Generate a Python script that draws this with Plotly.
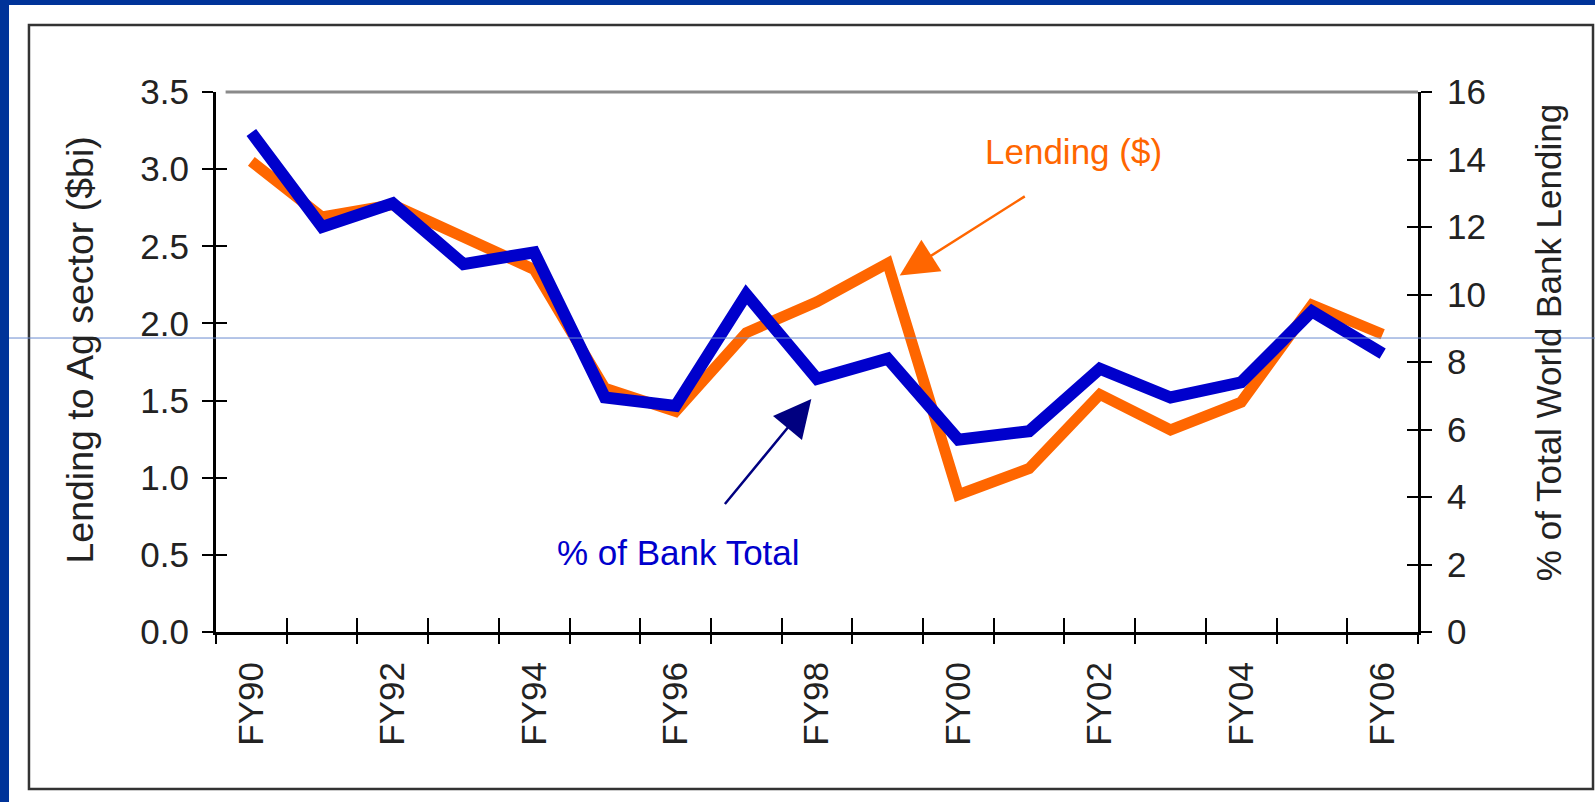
import plotly.graph_objects as go

years = ["FY90", "FY91", "FY92", "FY93", "FY94", "FY95", "FY96", "FY97", "FY98",
         "FY99", "FY00", "FY01", "FY02", "FY03", "FY04", "FY05", "FY06"]
lending_bn = [3.05, 2.69, 2.77, 2.56, 2.35, 1.58, 1.43, 1.94, 2.14,
              2.39, 0.89, 1.06, 1.54, 1.31, 1.49, 2.12, 1.93]
pct_of_bank = [14.8, 12.0, 12.7, 10.9, 11.25, 6.95, 6.7, 10.0, 7.5,
               8.1, 5.7, 5.95, 7.8, 6.95, 7.4, 9.5, 8.25]
left_ticks = [0, 0.5, 1.0, 1.5, 2.0, 2.5, 3.0, 3.5]
right_ticks = [0, 2, 4, 6, 8, 10, 12, 14, 16]

idx = list(range(len(years)))
label_idx = idx[::2]
label_txt = years[::2]

FONT = "Liberation Sans, Arial, sans-serif"
ORANGE = "#FF6600"
BLUE = "#0000CC"
NAVY = "#000080"
TXT = "#222222"
FS = 35

fig = go.Figure()
fig.add_trace(go.Scatter(x=idx, y=lending_bn, mode="lines", xaxis="x", yaxis="y",
                         line=dict(color=ORANGE, width=11), showlegend=False))
fig.add_trace(go.Scatter(x=idx, y=pct_of_bank, mode="lines", xaxis="x", yaxis="y2",
                         line=dict(color=BLUE, width=12), showlegend=False))
# empty helper traces so the overlay axes (crossing tick marks) get drawn
for xa, ya in [("x3", "y"), ("x4", "y"), ("x", "y3"), ("x", "y4")]:
    fig.add_trace(go.Scatter(x=[None], y=[None], xaxis=xa, yaxis=ya, mode="lines",
                             showlegend=False, hoverinfo="skip"))

xr = [-0.5, len(years) - 0.5]
common_x = dict(range=xr, showgrid=False, zeroline=False, fixedrange=True)
tick_style = dict(tickwidth=2, tickcolor="black")

fig.update_layout(
    width=1595, height=802,
    margin=dict(l=216, r=177, t=92, b=170),
    paper_bgcolor="#003399",
    plot_bgcolor="white",
    font=dict(family=FONT, size=FS, color=TXT),
    xaxis=dict(**common_x, tickmode="array", tickvals=label_idx, ticktext=label_txt,
               tickangle=-90, ticks="", showline=True, linecolor="black", linewidth=3,
               ticklabelstandoff=13, tickfont=dict(size=FS, color=TXT)),
    xaxis3=dict(**common_x, **tick_style, overlaying="x", anchor="y", side="bottom",
                tickmode="linear", tick0=-0.5, dtick=1, ticks="outside", ticklen=11,
                showticklabels=False, showline=False),
    xaxis4=dict(**common_x, **tick_style, overlaying="x", anchor="y", side="bottom",
                tickmode="linear", tick0=-0.5, dtick=1, ticks="inside", ticklen=14,
                showticklabels=False, showline=False),
    yaxis=dict(range=[0, 3.5], tickmode="array", tickvals=left_ticks,
               ticktext=[f"{v:.1f}" for v in left_ticks],
               ticks="outside", ticklen=11, **tick_style,
               showline=True, linecolor="black", linewidth=3, showgrid=False,
               zeroline=False, ticklabelstandoff=6, fixedrange=True),
    yaxis3=dict(range=[0, 3.5], overlaying="y", anchor="x", side="left",
                tickmode="array", tickvals=left_ticks, ticks="inside", ticklen=11,
                **tick_style, showticklabels=False,
                showline=False, showgrid=False, zeroline=False, fixedrange=True),
    yaxis2=dict(range=[0, 16], overlaying="y", anchor="x", side="right",
                tickmode="array", tickvals=right_ticks,
                ticks="outside", ticklen=11, **tick_style,
                showline=True, linecolor="black", linewidth=3, showgrid=False,
                zeroline=False, ticklabelstandoff=8, fixedrange=True),
    yaxis4=dict(range=[0, 16], overlaying="y", anchor="x", side="right",
                tickmode="array", tickvals=right_ticks, ticks="inside", ticklen=11,
                **tick_style, showticklabels=False,
                showline=False, showgrid=False, zeroline=False, fixedrange=True),
    showlegend=False,
)

# page background panel, frame and plot top border
fig.add_shape(type="rect", xref="paper", yref="paper", x0=-0.1722, x1=1.16,
              y0=-0.34, y1=1.1611, fillcolor="white", line=dict(width=0), layer="below")
fig.add_shape(type="rect", xref="paper", yref="paper", x0=-0.1556, x1=1.1456,
              y0=-0.2907, y1=1.1241, line=dict(color="#333333", width=2.5),
              fillcolor="rgba(0,0,0,0)", layer="above")
fig.add_shape(type="line", xref="paper", yref="paper", x0=0.008, x1=1, y0=1, y1=1,
              line=dict(color="#8a8a8a", width=3))
fig.add_shape(type="line", xref="paper", yref="paper", x0=-0.1722, x1=1.16,
              y0=0.5444, y1=0.5444, line=dict(color="#6a8bd0", width=1), layer="above")

# axis titles
fig.add_annotation(text="Lending to Ag sector ($bi)", xref="paper", yref="paper",
                   x=-0.1131, y=0.5213, textangle=-90, showarrow=False,
                   font=dict(size=37.5, color=TXT), xanchor="center", yanchor="middle")
fig.add_annotation(text="% of Total World Bank Lending", xref="paper", yref="paper",
                   x=1.1082, y=0.535, textangle=-90, showarrow=False,
                   font=dict(size=FS, color=TXT), xanchor="center", yanchor="middle")

# series callouts
fig.add_annotation(text="Lending ($)", xref="paper", yref="paper", x=0.7138, y=0.8907,
                   showarrow=False, font=dict(size=FS, color=ORANGE),
                   xanchor="center", yanchor="middle")
fig.add_annotation(text="% of Bank Total", xref="paper", yref="paper", x=0.3844, y=0.1463,
                   showarrow=False, font=dict(size=FS, color=BLUE),
                   xanchor="center", yanchor="middle")
fig.add_annotation(text="", x=9.17, y=2.31, xref="x", yref="y", ax=10.96, ay=2.83,
                   axref="x", ayref="y", showarrow=True, arrowhead=2, arrowsize=3,
                   arrowwidth=2.5, arrowcolor=ORANGE, standoff=0)
fig.add_annotation(text="", x=7.92, y=1.51, xref="x", yref="y", ax=6.68, ay=0.82,
                   axref="x", ayref="y", showarrow=True, arrowhead=2, arrowsize=3,
                   arrowwidth=2.5, arrowcolor=NAVY, standoff=0)

fig.write_html("out.html",
               config={"displayModeBar": False},
               post_script="document.body.style.margin='0';"
                           "document.body.style.overflow='hidden';")
